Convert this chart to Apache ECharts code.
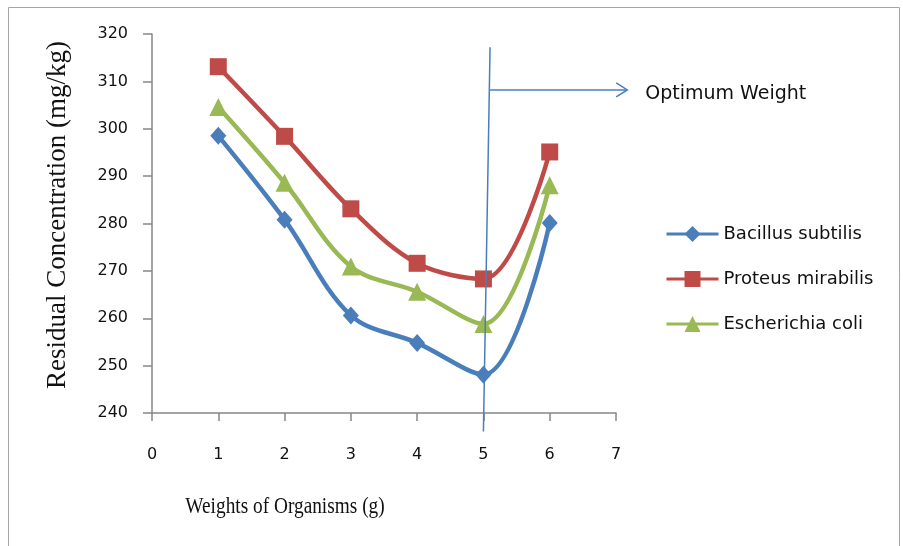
<!DOCTYPE html>
<html><head><meta charset="utf-8">
<script src="https://cdn.jsdelivr.net/npm/echarts@6/dist/echarts.min.js"></script>
<style>html,body{margin:0;padding:0;background:#fff}#c{width:903px;height:546px}</style>
</head><body><div id="c"></div>
<script>
const weights = [1, 2, 3, 4, 5, 6];
const bacillus = [298.5, 280.8, 260.6, 254.8, 248.1, 280.1];
const proteus = [313.1, 298.4, 283.1, 271.6, 268.3, 295.1];
const ecoli = [304.6, 288.6, 270.9, 265.6, 258.8, 288.1];
const seriesNames = ['Bacillus subtilis', 'Proteus mirabilis', 'Escherichia coli'];
const optimumLine = [[5.1, 317.2], [5.0, 236.1]];
const optimumArrow = [[5.1, 308.2], [7.17, 308.2]];
const optimumLabel = 'Optimum Weight';
const xTitle = 'Weights of Organisms (g)';
const yTitle = 'Residual Concentration (mg/kg)';

const colors = ['#4a7ebb', '#be4b48', '#98b954'];
const symbols = ['diamond', 'rect', 'triangle'];
const sizes = [[16, 18], 17, 18];
const axisGrey = '#868686';
const tickFont = {color: '#111', fontFamily: 'DejaVu Sans', fontSize: 16};

const chart = echarts.init(document.getElementById('c'), null, {renderer: 'canvas'});
const dataSets = [bacillus, proteus, ecoli];
chart.setOption({
  animation: false,
  backgroundColor: '#fff',
  grid: {left: 152, top: 34, width: 464, height: 379, containLabel: false},
  xAxis: {
    type: 'value', min: 0, max: 7, interval: 1,
    axisLine: {lineStyle: {color: axisGrey, width: 1.5}},
    axisTick: {show: true, inside: false, length: 8, lineStyle: {color: axisGrey, width: 1.5}},
    splitLine: {show: false},
    axisLabel: Object.assign({margin: 34}, tickFont)
  },
  yAxis: {
    type: 'value', min: 240, max: 320, interval: 10,
    axisLine: {show: true, lineStyle: {color: axisGrey, width: 1.5}},
    axisTick: {show: true, inside: false, length: 9, lineStyle: {color: axisGrey, width: 1.5}},
    splitLine: {show: false},
    axisLabel: Object.assign({margin: 24}, tickFont)
  },
  legend: {
    orient: 'vertical', left: 660, top: 220, itemGap: 27,
    itemWidth: 52, itemHeight: 20,
    lineStyle: {width: 3},
    textStyle: {fontFamily: 'DejaVu Sans', fontSize: 18, color: '#111'},
    data: seriesNames
  },
  series: dataSets.map((d, i) => ({
    name: seriesNames[i], type: 'line', smooth: 0.35,
    data: weights.map((w, j) => [w, d[j]]),
    symbol: symbols[i], symbolSize: sizes[i],
    lineStyle: {color: colors[i], width: 4.5},
    itemStyle: {color: colors[i]},
    z: 3 + i
  }))
});

const p = c => chart.convertToPixel({gridIndex: 0}, c);
const v0 = p(optimumLine[0]), v1 = p(optimumLine[1]);
const a0 = p(optimumArrow[0]), a1 = p(optimumArrow[1]);
const lineBlue = {stroke: '#4a7ebb', lineWidth: 1.5};
chart.setOption({
  graphic: [
    {type: 'rect', shape: {x: 8.5, y: 7.5, width: 891, height: 560}, style: {fill: 'none', stroke: '#a6a6a6', lineWidth: 1}, z: 1},
    {type: 'line', shape: {x1: v0[0], y1: v0[1], x2: v1[0], y2: v1[1]}, style: lineBlue, z: 10},
    {type: 'line', shape: {x1: a0[0], y1: a0[1], x2: a1[0], y2: a1[1]}, style: lineBlue, z: 10},
    {type: 'polyline', shape: {points: [[a1[0] - 11, a1[1] - 7], [a1[0], a1[1]], [a1[0] - 11, a1[1] + 7]]}, style: Object.assign({fill: 'none'}, lineBlue), z: 10},
    {type: 'text', left: a1[0] + 18, top: a1[1] - 5, style: {text: optimumLabel, fontFamily: 'DejaVu Sans', fontSize: 19, fill: '#111'}, z: 10},
    {type: 'text', x: 285, y: 507, scaleX: 0.84, style: {text: xTitle, fontFamily: 'Liberation Serif', fontSize: 23, fill: '#111', align: 'center', verticalAlign: 'middle'}, z: 10},
    {type: 'text', x: 58, y: 215, rotation: Math.PI / 2, style: {text: yTitle, fontFamily: 'Liberation Serif', fontSize: 27, fill: '#111', align: 'center', verticalAlign: 'middle'}, z: 10}
  ]
});
</script></body></html>
